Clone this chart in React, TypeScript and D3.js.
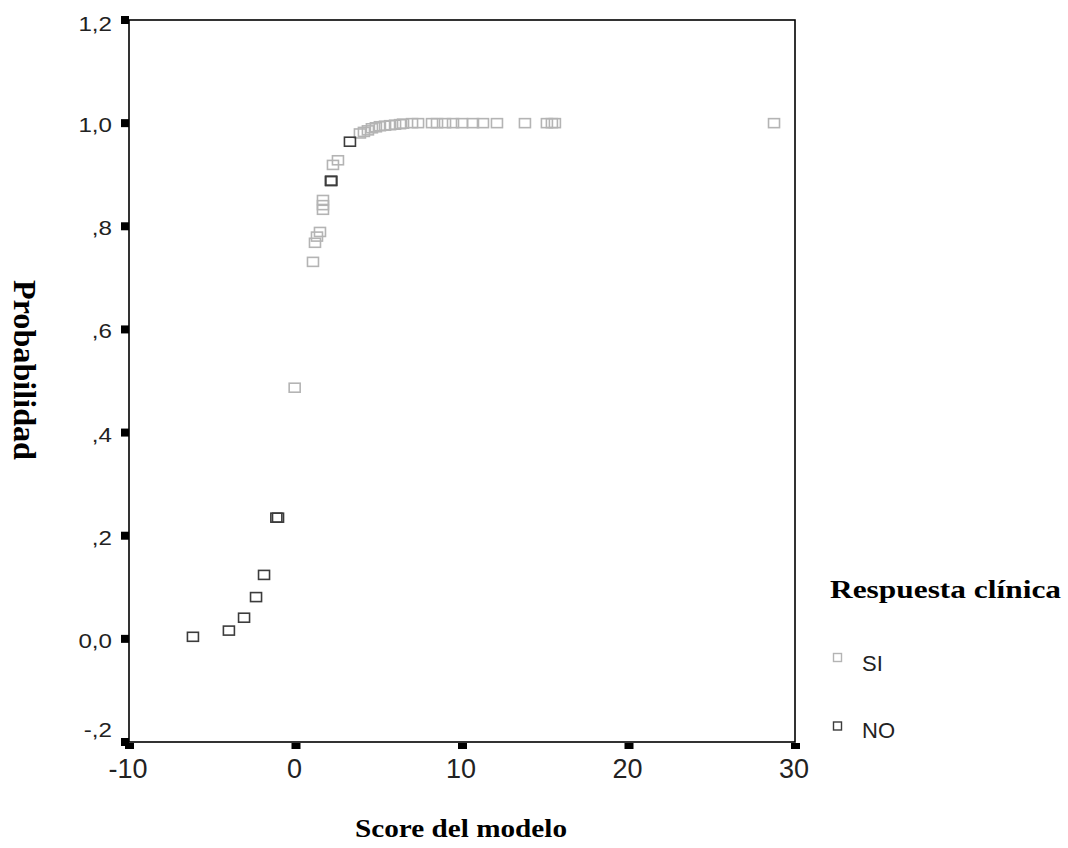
import React from "react";
import * as d3 from "d3";

const siScore = [-0.05, 1.05, 1.17, 1.29, 1.47, 1.65, 1.65, 1.65, 2.13, 2.25, 2.55, 3.87, 4.11, 4.35, 4.59, 4.83, 5.07, 5.38, 5.68, 5.98, 6.28, 6.46, 7.0, 7.36, 8.2, 8.5, 8.98, 9.46, 10.0, 10.66, 11.26, 12.1, 13.78, 15.1, 15.4, 15.58, 28.74];
const siProb = [0.487, 0.731, 0.768, 0.78, 0.789, 0.832, 0.841, 0.851, 0.888, 0.919, 0.928, 0.98, 0.983, 0.986, 0.99, 0.992, 0.994, 0.995, 0.996, 0.997, 0.998, 0.999, 1, 1, 1, 1, 1, 1, 1, 1, 1, 1, 1, 1, 1, 1, 1];
const noScore = [-6.16, -4.0, -3.09, -2.37, -1.89, -1.15, -1.05, 2.13, 2.15, 3.27];
const noProb = [0.004, 0.016, 0.041, 0.081, 0.124, 0.235, 0.235, 0.888, 0.888, 0.964];
const xTicks = [-10, 0, 10, 20, 30];
const yTicks = [-0.2, 0, 0.2, 0.4, 0.6, 0.8, 1.0, 1.2];
const yTickLabels = ["-,2", "0,0", ",2", ",4", ",6", ",8", "1,0", "1,2"];
const legendLabels = ["SI", "NO"];
const colors = ["#b4b4b4", "#3c3c3c"];

export default function App() {
  const x = d3.scaleLinear().domain([-10, 30]).range([129, 795]);
  const y = d3.scaleLinear().domain([-0.2, 1.2]).range([742, 20]);
  const sw = 11, sh = 9;
  const serif = "Liberation Serif, Times New Roman, serif";
  const sans = "Liberation Sans, Arial, sans-serif";
  const pts = (xs: number[], ys: number[], c: string) =>
    xs.map((s, i) => (
      <rect key={c + i} x={x(s) - sw / 2} y={y(ys[i]) - sh / 2} width={sw} height={sh} fill="none" stroke={c} strokeWidth={1.6} />
    ));
  const yLabelBase = (t: number) => (t === -0.2 ? y(t) - 5 : t === 1.2 ? y(t) + 11 : y(t) + 9);
  return (
    <svg width={1068} height={848} style={{ position: "absolute", left: 0, top: 0, background: "#fff" }}>
      <rect x={x(-10)} y={y(1.2)} width={x(30) - x(-10)} height={y(-0.2) - y(1.2)} fill="none" stroke="#000" strokeWidth={1.6} />
      {yTicks.map((t, i) => (
        <g key={"y" + i}>
          <rect x={x(-10) - 8} y={y(t) - 4} width={8} height={8} fill="#000" />
          <g transform={`translate(112, ${yLabelBase(t)}) scale(1.15,1)`}>
            <text x={0} y={0} textAnchor="end" fontFamily={sans} fontSize={21} fill="#222">{yTickLabels[i]}</text>
          </g>
        </g>
      ))}
      {xTicks.map((t, i) => (
        <g key={"x" + i}>
          <rect x={x(t) - 4} y={y(-0.2) + 1} width={9} height={6} fill="#000" />
          <text x={x(t) - 1} y={778} textAnchor="middle" fontFamily={sans} fontSize={27} fill="#222">{t}</text>
        </g>
      ))}
      {pts(siScore, siProb, colors[0])}
      {pts(noScore, noProb, colors[1])}
      <text x={355} y={837} textLength={212} lengthAdjust="spacingAndGlyphs" fontFamily={serif} fontWeight="bold" fontSize={26}>Score del modelo</text>
      <text transform="translate(14,280) rotate(90)" textLength={180} lengthAdjust="spacingAndGlyphs" fontFamily={serif} fontWeight="bold" fontSize={31}>Probabilidad</text>
      <text x={830} y={598} textLength={231} lengthAdjust="spacingAndGlyphs" fontFamily={serif} fontWeight="bold" fontSize={25.5}>Respuesta clínica</text>
      {legendLabels.map((l, i) => (
        <g key={l}>
          <rect x={833.5} y={653.5 + i * 68.5} width={8} height={8} fill="none" stroke={colors[i]} strokeWidth={1.4} />
          <text x={862} y={671 + i * 67} fontFamily={sans} fontSize={22} fill="#222">{l}</text>
        </g>
      ))}
    </svg>
  );
}
